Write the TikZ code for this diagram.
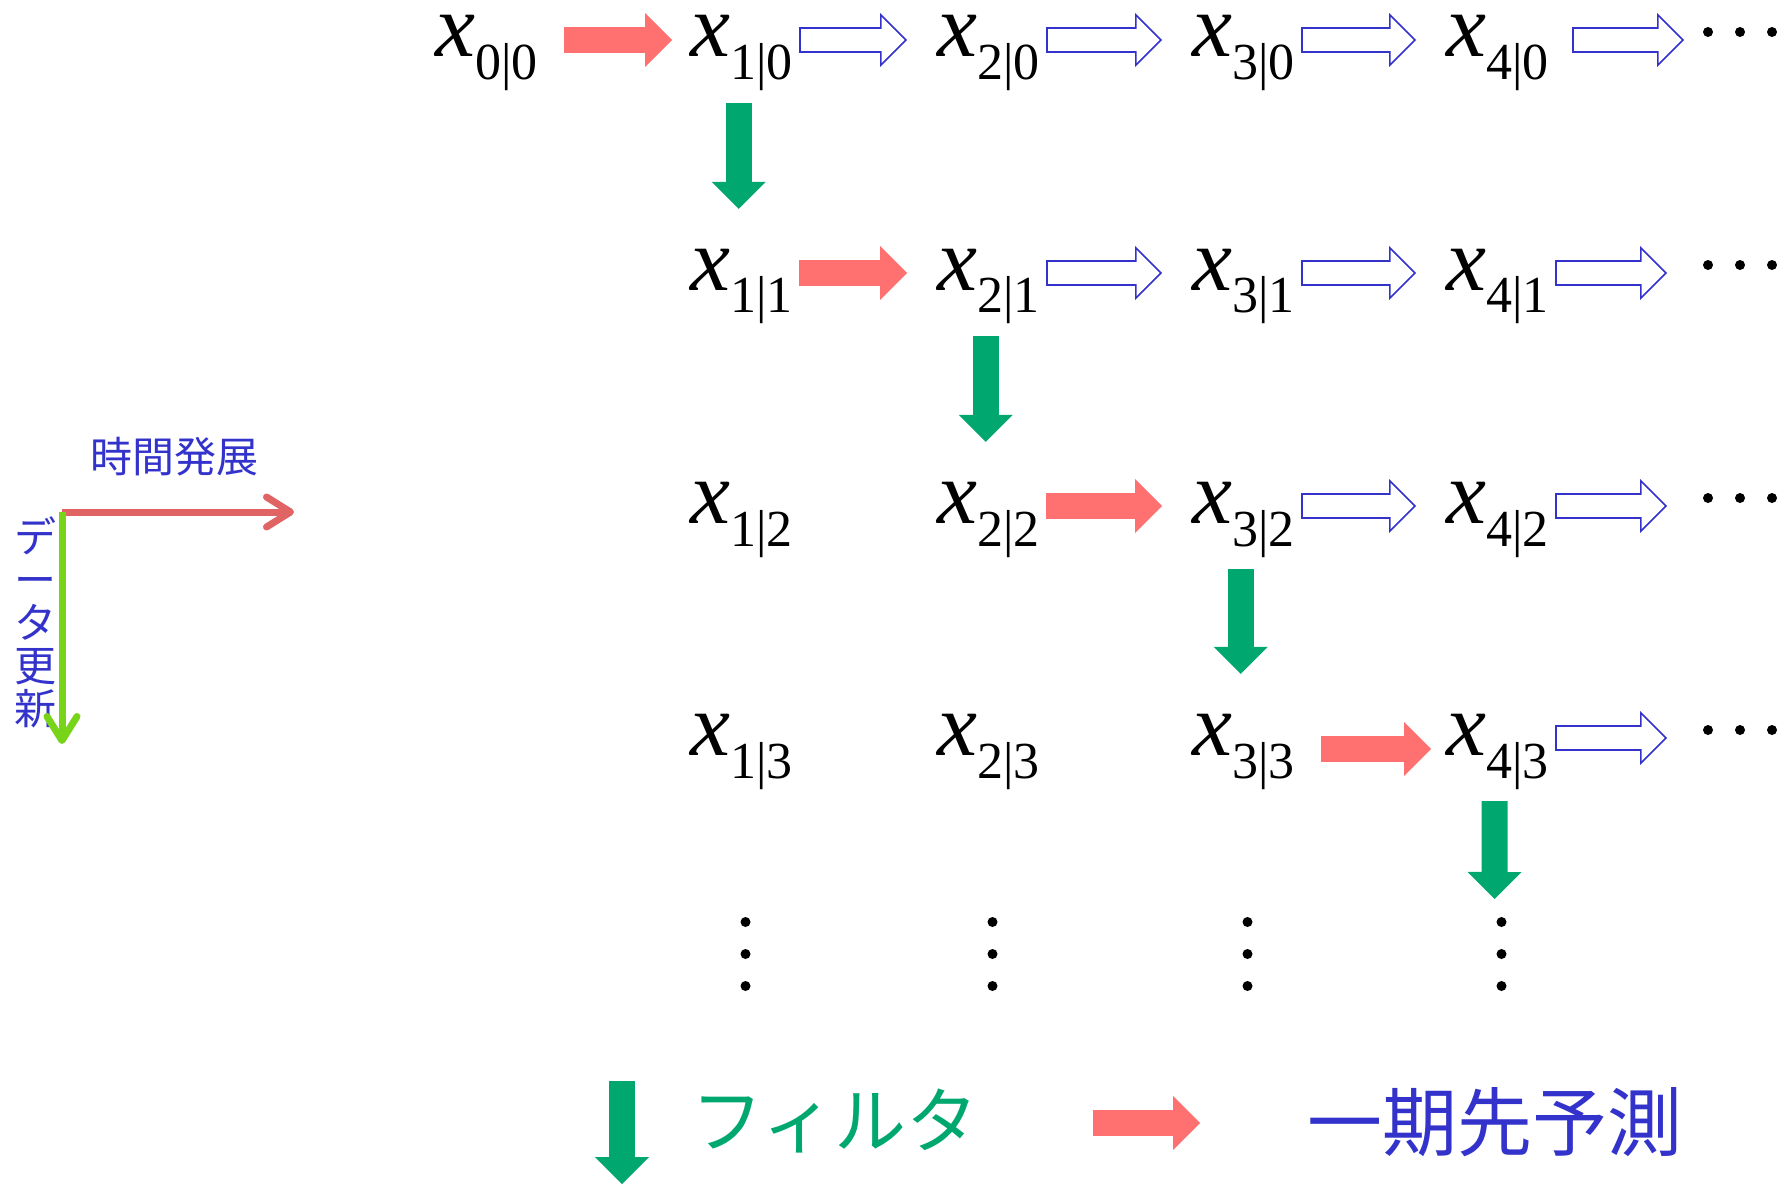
\documentclass[tikz,border=0pt]{standalone}
\usepackage{fontspec}
\setmainfont{Liberation Serif}
\newfontfamily\jfont{Noto Sans CJK JP}
\usepackage{tikz}
\usetikzlibrary{arrows.meta, calc}
\usepackage{xcolor}
\definecolor{predred}{HTML}{FF7070}
\definecolor{updblue}{HTML}{3333CC}
\definecolor{filtgreen}{HTML}{00A86F}
\definecolor{timered}{HTML}{E06464}
\definecolor{datagreen}{HTML}{77D419}
\newcommand\xsub[1]{\textit{x}\raisebox{-23pt}{\fontsize{52}{52}\selectfont #1}}

\begin{document}
\begin{tikzpicture}[x=1pt, y=1pt,
    xnode/.style={anchor=base west, inner sep=0pt, text width=97pt, align=left, text height=50pt, text depth=16pt, font=\fontsize{90}{90}\selectfont},
    fwd/.style={shorten <=12pt, shorten >=30pt},
    dwn/.style={shorten <=30pt, shorten >=31pt},
    predict/.style={draw=predred, line width=26pt, -{Triangle[length=27pt, width=54pt, line width=0pt]}},
    filter/.style={draw=filtgreen, line width=26pt, -{Triangle[length=27pt, width=54pt, line width=0pt]}},
    update/.style={fwd, draw=updblue, line width=26pt, -{Triangle[length=27pt, width=54pt, line width=0pt]},
        postaction={draw=white, line width=22.6pt, shorten <=13.7pt, shorten >=32.4pt, -{Triangle[length=22.9pt, width=45.8pt, line width=0pt]}}},
    jlabel/.style={inner sep=0pt, text=updblue},
    axis/.style={line width=7pt, -{Straight Barb[length=24pt, width=30pt, round]}}
]
\useasboundingbox (0,0) rectangle (1786,-1185);

\node[xnode] (x00) at (435,-57) {\xsub{0|0}};
\foreach \j/\yy in {0/57,1/290,2/523,3/755} {
    \foreach \i/\xx in {1/690,2/937,3/1192,4/1446}
        \node[xnode] (x\i\j) at (\xx,-\yy) {\xsub{\i|\j}};
    \coordinate (h\j) at (1697,-\yy+17);
    \foreach \dx in {11,43,75}
        \fill ([xshift=\dx pt, yshift=8pt]h\j) circle (5pt);
}
\foreach \i/\xx in {1/690,2/937,3/1192,4/1446} {
    \coordinate (v\i) at (\xx+48.5,-930);
    \foreach \dy in {8,-24,-56}
        \fill ([xshift=7pt, yshift=\dy pt]v\i) circle (5pt);
}

\draw[predict, shorten <=32pt, shorten >=18pt] (x00.east) -- (x10.west);
\draw[update] (x10.east) -- (x20.west);
\draw[update] (x20.east) -- (x30.west);
\draw[update] (x30.east) -- (x40.west);
\draw[update] ([xshift=17pt]x40.east) -- ([xshift=17pt]h0);

\draw[predict, fwd] (x11.east) -- (x21.west);
\draw[update] (x21.east) -- (x31.west);
\draw[update] (x31.east) -- (x41.west);
\draw[update] (x41.east) -- (h1);

\draw[predict, fwd] (x22.east) -- (x32.west);
\draw[update] (x32.east) -- (x42.west);
\draw[update] (x42.east) -- (h2);

\draw[predict, shorten <=32pt, shorten >=15pt] ([yshift=-11pt]x33.east) -- ([yshift=-11pt]x43.west);
\draw[update] (x43.east) -- (h3);

\draw[filter, dwn] (x10.south) -- (x11.north);
\draw[filter, dwn] (x21.south) -- (x22.north);
\draw[filter, dwn] (x32.south) -- (x33.north);
\draw[filter, dwn] (x43.south) -- (v4);

\node[jlabel, font=\jfont\fontsize{42}{42}\selectfont] (tlab) at (174,-457) {時間発展};
\node[jlabel, font=\jfont\fontsize{42}{43}\selectfont, align=center] (dlab) at (35,-622) {デ\\ー\\タ\\更\\新};
\coordinate (o) at (62,-512);
\coordinate (te) at (294,-512);
\coordinate (de) at (62,-744);
\draw[axis, timered] (o) -- (te);
\draw[axis, datagreen] (o) -- (de);

\coordinate (fa) at (622,-1081);
\coordinate (fb) at (622,-1184);
\draw[filter] (fa) -- (fb);
\node[jlabel, text=filtgreen, font=\jfont\fontsize{72}{72}\selectfont] (ftxt) at (835,-1121) {フィルタ};
\coordinate (pa) at (1093,-1123);
\coordinate (pb) at (1200,-1123);
\draw[predict] (pa) -- (pb);
\node[jlabel, font=\jfont\fontsize{75}{75}\selectfont] (ptxt) at (1495,-1122) {一期先予測};
\end{tikzpicture}
\end{document}
